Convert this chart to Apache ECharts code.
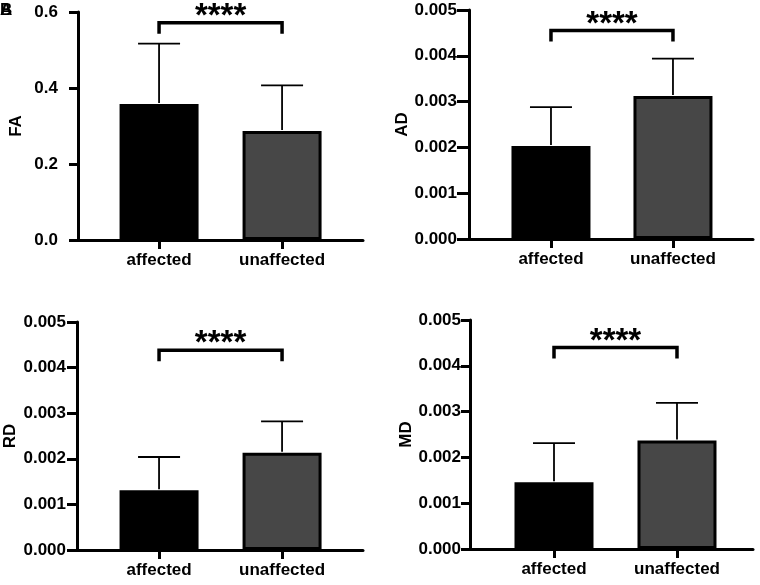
<!DOCTYPE html>
<html>
<head>
<meta charset="utf-8">
<script src="https://cdn.jsdelivr.net/npm/echarts@6/dist/echarts.min.js"></script>
<style>
  html, body { margin: 0; padding: 0; background: #fff; }
  #chart { width: 760px; height: 585px; }
</style>
</head>
<body>
<div id="chart"></div>
<script>
// groups on the x axis (bar centres sit at 1 and 2)
const categories = ['affected', 'unaffected'];
const measures = ['FA', 'AD', 'RD', 'MD'];

// mean and SD per group
const faMean = [0.358, 0.287];
const faSd = [0.159, 0.120];
const adMean = [0.00203, 0.00312];
const adSd = [0.00085, 0.00082];
const rdMean = [0.00131, 0.00213];
const rdSd = [0.00073, 0.00069];
const mdMean = [0.00146, 0.00237];
const mdSd = [0.00085, 0.00082];

// significance bracket height and label
const bracketLevel = [0.572, 0.00455, 0.00438, 0.00440];
const sigLabel = ['****', '****', '****', '****'];

// y axis ticks
const faTicks = { min: 0, max: 0.6, interval: 0.2, digits: 1 };
const smallTicks = { min: 0, max: 0.005, interval: 0.001, digits: 3 };

const means = [faMean, adMean, rdMean, mdMean];
const sds = [faSd, adSd, rdSd, mdSd];
const ticks = [faTicks, smallTicks, smallTicks, smallTicks];

// layout of the four panels
const panels = [
  { grid: { left: 78, top: 12, width: 285, height: 228 }, xMin: 0.341, xMax: 2.658, labelMargin: 20, tickLen: 9, nameGap: 53 },
  { grid: { left: 469, top: 10, width: 284, height: 229 }, xMin: 0.328, xMax: 2.656, labelMargin: 12, tickLen: 12, nameGap: 55 },
  { grid: { left: 77, top: 322, width: 286, height: 228 }, xMin: 0.333, xMax: 2.658, labelMargin: 11, tickLen: 10, nameGap: 58 },
  { grid: { left: 470, top: 320, width: 283, height: 229 }, xMin: 0.317, xMax: 2.618, labelMargin: 9, tickLen: 9, nameGap: 54 }
];

const FONT = '"Liberation Sans", Arial, Helvetica, sans-serif';
const barColors = ['#000000', '#474747'];

const chart = echarts.init(document.getElementById('chart'));

let grids = [], xAxes = [], yAxes = [], series = [];

panels.forEach(function (p, i) {
  grids.push(Object.assign({ containLabel: false }, p.grid));

  xAxes.push({
    type: 'value',
    gridIndex: i,
    min: p.xMin,
    max: p.xMax,
    splitLine: { show: false },
    axisLine: { show: true, lineStyle: { color: '#000', width: 3 } },
    axisTick: { show: true, customValues: [1, 2], length: 9, lineStyle: { color: '#000', width: 3 } },
    axisLabel: {
      customValues: [1, 2],
      margin: 12,
      color: '#000',
      fontFamily: FONT,
      fontWeight: 'bold',
      fontSize: 17,
      formatter: function (v) { return categories[Math.round(v) - 1]; }
    }
  });

  const t = ticks[i];
  yAxes.push({
    type: 'value',
    gridIndex: i,
    min: t.min,
    max: t.max,
    interval: t.interval,
    name: measures[i],
    nameLocation: 'middle',
    nameGap: p.nameGap,
    nameTextStyle: { color: '#000', fontFamily: FONT, fontWeight: 'bold', fontSize: 17 },
    splitLine: { show: false },
    axisLine: { show: true, lineStyle: { color: '#000', width: 3 } },
    axisTick: { show: true, length: p.tickLen, lineStyle: { color: '#000', width: 3 } },
    axisLabel: {
      margin: p.labelMargin,
      color: '#000',
      fontFamily: FONT,
      fontWeight: 'bold',
      fontSize: 17,
      formatter: function (v) { return v.toFixed(t.digits); }
    }
  });

  // bars
  series.push({
    type: 'bar',
    xAxisIndex: i,
    yAxisIndex: i,
    barWidth: 79,
    z: 2,
    data: means[i].map(function (m, k) {
      return {
        value: [k + 1, m],
        itemStyle: { color: barColors[k], borderColor: '#000', borderWidth: 3 }
      };
    })
  });

  // error bars (upper only)
  series.push({
    type: 'custom',
    xAxisIndex: i,
    yAxisIndex: i,
    z: 3,
    data: means[i].map(function (m, k) { return [k + 1, m, sds[i][k]]; }),
    renderItem: function (params, api) {
      const x = api.value(0), m = api.value(1), s = api.value(2);
      const base = api.coord([x, m]);
      const top = api.coord([x, m + s]);
      const style = { stroke: '#000', lineWidth: 1.8 };
      return {
        type: 'group',
        children: [
          { type: 'line', shape: { x1: base[0], y1: base[1] - 1, x2: top[0], y2: top[1] }, style: style },
          { type: 'line', shape: { x1: top[0] - 21, y1: top[1], x2: top[0] + 21, y2: top[1] }, style: style }
        ]
      };
    }
  });

  // significance bracket
  series.push({
    type: 'custom',
    xAxisIndex: i,
    yAxisIndex: i,
    z: 4,
    clip: false,
    data: [[1, 2, bracketLevel[i]]],
    renderItem: function (params, api) {
      const a = api.coord([api.value(0), api.value(2)]);
      const b = api.coord([api.value(1), api.value(2)]);
      const leg = 11;
      return {
        type: 'group',
        children: [
          {
            type: 'polyline',
            shape: { points: [[a[0], a[1] + leg], [a[0], a[1]], [b[0], b[1]], [b[0], b[1] + leg]] },
            style: { stroke: '#000', lineWidth: 3.5, fill: 'none', lineJoin: 'miter', lineCap: 'butt' }
          },
          {
            type: 'text',
            x: (a[0] + b[0]) / 2,
            y: a[1] - 6,
            style: {
              text: sigLabel[i],
              fill: '#000',
              font: 'bold 33px ' + FONT,
              align: 'center',
              verticalAlign: 'middle'
            }
          }
        ]
      };
    }
  });
});

chart.setOption({
  backgroundColor: '#fff',
  animation: false,
  grid: grids,
  xAxis: xAxes,
  yAxis: yAxes,
  series: series,
  graphic: [
    { type: 'text', left: 0, top: 2, style: { text: 'A', font: 'bold 17px ' + FONT, fill: '#000' } },
    { type: 'text', left: 0, top: 2, style: { text: 'B', font: 'bold 17px ' + FONT, fill: '#000' } }
  ]
});
</script>
</body>
</html>
